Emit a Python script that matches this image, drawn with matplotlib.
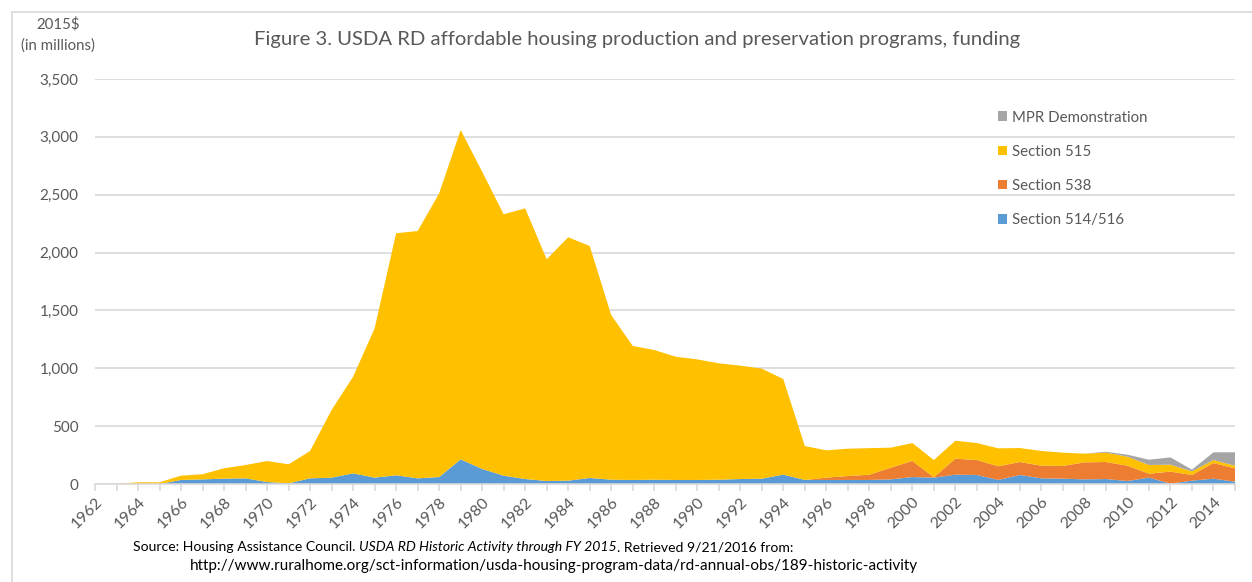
import matplotlib
matplotlib.use("Agg")
import matplotlib.pyplot as plt
from matplotlib.patches import Patch, Rectangle
from matplotlib.ticker import FuncFormatter

years = list(range(1962, 2016))

sec_514_516 = [0, 0, 0, 0, 35, 40, 46, 49, 17, 6,
               49, 55, 92, 55, 75, 49, 60, 213, 130, 72,
               43, 26, 29, 52, 37, 35, 37, 35, 35, 37,
               43, 46, 81, 35, 35, 35, 35, 40, 60, 55,
               81, 78, 35, 78, 49, 46, 40, 43, 26, 55,
               3, 29, 46, 20]

sec_538 = [0, 0, 0, 0, 0, 0, 0, 0, 0, 0,
           0, 0, 0, 0, 0, 0, 0, 0, 0, 0,
           0, 0, 0, 0, 0, 0, 0, 0, 0, 0,
           0, 0, 0, 0, 20, 34, 45, 101, 139, 3,
           138, 129, 118, 112, 109, 110, 147, 147, 132, 34,
           104, 49, 135, 115]

sec_515 = [0, 2, 15, 15, 37, 44, 90, 115, 182, 164,
           236, 585, 835, 1290, 2092, 2137, 2452, 2846, 2569, 2259,
           2339, 1916, 2103, 2005, 1423, 1158, 1121, 1065, 1042, 1006,
           980, 951, 826, 293, 236, 236, 230, 173, 155, 149,
           155, 147, 155, 121, 127, 115, 75, 81, 78, 75,
           60, 31, 26, 23]

mpr_demo = [0] * 47 + [8, 17, 46, 63, 15, 67, 116]

series_names = ["Section 514/516", "Section 538", "Section 515", "MPR Demonstration"]
series_colors = ["#5B9BD5", "#ED7D31", "#FFC000", "#A5A5A5"]

title_text = "Figure 3. USDA RD affordable housing production and preservation programs, funding"
ylabel_text = "2015$\n(in millions)"
src_line1_a = "Source: Housing Assistance Council. "
src_line1_b = "USDA RD Historic Activity through FY 2015"
src_line1_c = ". Retrieved 9/21/2016 from:"
src_line2 = "http://www.ruralhome.org/sct-information/usda-housing-program-data/rd-annual-obs/189-historic-activity"

W, H = 1252, 582
FONT = ["Lato", "DejaVu Sans"]
TXT = "#595959"
plt.rcParams["font.family"] = FONT

fig = plt.figure(figsize=(W / 100, H / 100), dpi=100)
fig.patch.set_facecolor("white")

# chart-area border (clipped at right/bottom like the reference)
fig.patches.append(Rectangle((12 / W, -0.1), 1.2, 1 - 12 / H + 0.1, transform=fig.transFigure,
                             fill=False, edgecolor="#D9D9D9", linewidth=1.2))

ax = fig.add_axes([95 / W, 1 - 484 / H, (1235 - 95) / W, (484 - 79) / H])
ax.stackplot(years, sec_514_516, sec_538, sec_515, mpr_demo,
             colors=series_colors, labels=series_names, linewidth=0)

ax.set_xlim(1962, 2015)
ax.set_ylim(0, 3500)
ax.set_yticks(range(0, 3501, 500))
ax.yaxis.set_major_formatter(FuncFormatter(lambda v, p: f"{int(v):,}"))
ax.set_xticks(years)
ax.set_xticklabels([str(y) if (y - 1962) % 2 == 0 else "" for y in years],
                   rotation=45, ha="right", rotation_mode="anchor")
ax.grid(axis="y", color="#D9D9D9", linewidth=1.2)
ax.set_axisbelow(True)
for s in ["top", "right", "left"]:
    ax.spines[s].set_visible(False)
ax.spines["bottom"].set_color("#D9D9D9")
ax.spines["bottom"].set_linewidth(1.2)
ax.tick_params(axis="y", length=0, pad=12, labelsize=11, labelcolor=TXT)
ax.tick_params(axis="x", length=5, color="#D9D9D9", width=1.2, pad=3,
               labelsize=11.5, labelcolor=TXT)

fig.text(637 / W, 1 - 40 / H, title_text, ha="center", va="center",
         fontsize=14.6, color=TXT)
fig.text(58 / W, 1 - 35 / H, ylabel_text, ha="center", va="center",
         fontsize=10.8, color=TXT, linespacing=1.6)

handles = [Patch(facecolor=c, edgecolor="none") for c in series_colors][::-1]
labels = series_names[::-1]
leg = fig.legend(handles, labels, loc="upper left",
                 bbox_to_anchor=(984 / W, 1 - 97 / H), frameon=False,
                 handlelength=0.6, handleheight=0.6, handletextpad=0.35,
                 labelspacing=1.35, fontsize=10.8)
for t in leg.get_texts():
    t.set_color(TXT)

fig.canvas.draw()
r = fig.canvas.get_renderer()
y1 = 1 - 547 / H
x = 133 / W
for txt, style in [(src_line1_a, "normal"), (src_line1_b, "italic"), (src_line1_c, "normal")]:
    t = fig.text(x, y1, txt, ha="left", va="center", fontsize=10.1, color="black", style=style)
    bb = t.get_window_extent(r)
    x = bb.x1 / W
fig.text(190 / W, 1 - 566 / H, src_line2, ha="left", va="center", fontsize=11, color="black")

fig.savefig("out.png", dpi=100, facecolor="white")
